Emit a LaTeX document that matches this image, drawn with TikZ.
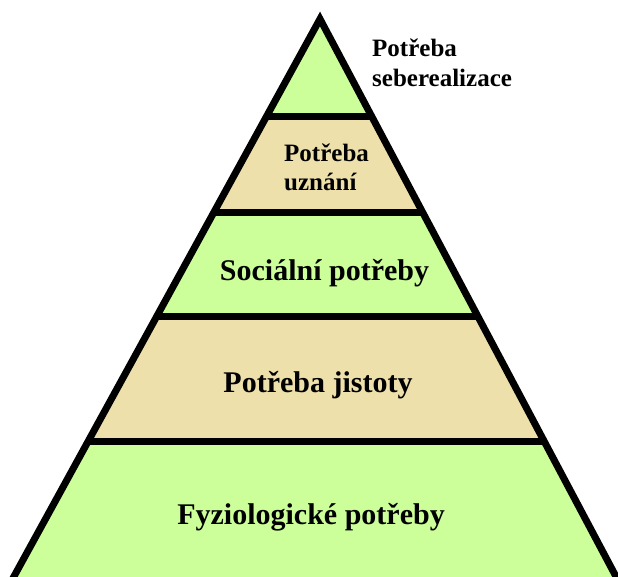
\documentclass[tikz,border=0pt]{standalone}
\usepackage{fontspec}
\setmainfont{Liberation Serif}
\usetikzlibrary{calc}
\definecolor{bandgreen}{HTML}{CCFF99}
\definecolor{bandtan}{HTML}{EEE0AA}
\begin{document}
\begin{tikzpicture}[x=1pt,y=1pt,
  biglabel/.style={font=\bfseries\fontsize{30}{34}\selectfont, inner sep=0pt, anchor=base},
  smalllabel/.style={font=\bfseries\fontsize{25}{29}\selectfont, inner sep=0pt, anchor=base west},
  divider/.style={line width=7pt},
  outline/.style={line width=7pt, line join=miter}]
\useasboundingbox (0,0) rectangle (618,576);
\fill[white] (0,0) rectangle (618,576);
\coordinate (apex) at (320,557);
\coordinate (bl) at (8.7,-10);
\coordinate (br) at (621,-10);
\begin{scope}
  \clip (0,0) rectangle (618,576);
  \clip (apex) -- (bl) -- (br) -- cycle;
  \fill[bandgreen] (0,459) rectangle (618,600);
  \fill[bandtan] (0,363) rectangle (618,459);
  \fill[bandgreen] (0,259) rectangle (618,363);
  \fill[bandtan] (0,135) rectangle (618,259);
  \fill[bandgreen] (0,-20) rectangle (618,135);
  \draw[divider] (0,459) -- (618,459);
  \draw[divider] (0,363) -- (618,363);
  \draw[divider] (0,259) -- (618,259);
  \draw[divider] (0,135) -- (618,135);
\end{scope}
\begin{scope}
  \clip (0,0) rectangle (618,576);
  \draw[outline] (bl) -- (apex) -- (br);
\end{scope}
\node[smalllabel] (sr1) at (372,519) {Potřeba};
\node[smalllabel] (sr2) at (372,489) {seberealizace};
\node[smalllabel] (uz1) at (284,414) {Potřeba};
\node[smalllabel] (uz2) at (284,385) {uznání};
\node[biglabel] (soc) at (324.5,295) {Sociální potřeby};
\node[biglabel] (jis) at (318,183) {Potřeba jistoty};
\node[biglabel] (fyz) at (311,52) {Fyziologické potřeby};
\end{tikzpicture}
\end{document}
